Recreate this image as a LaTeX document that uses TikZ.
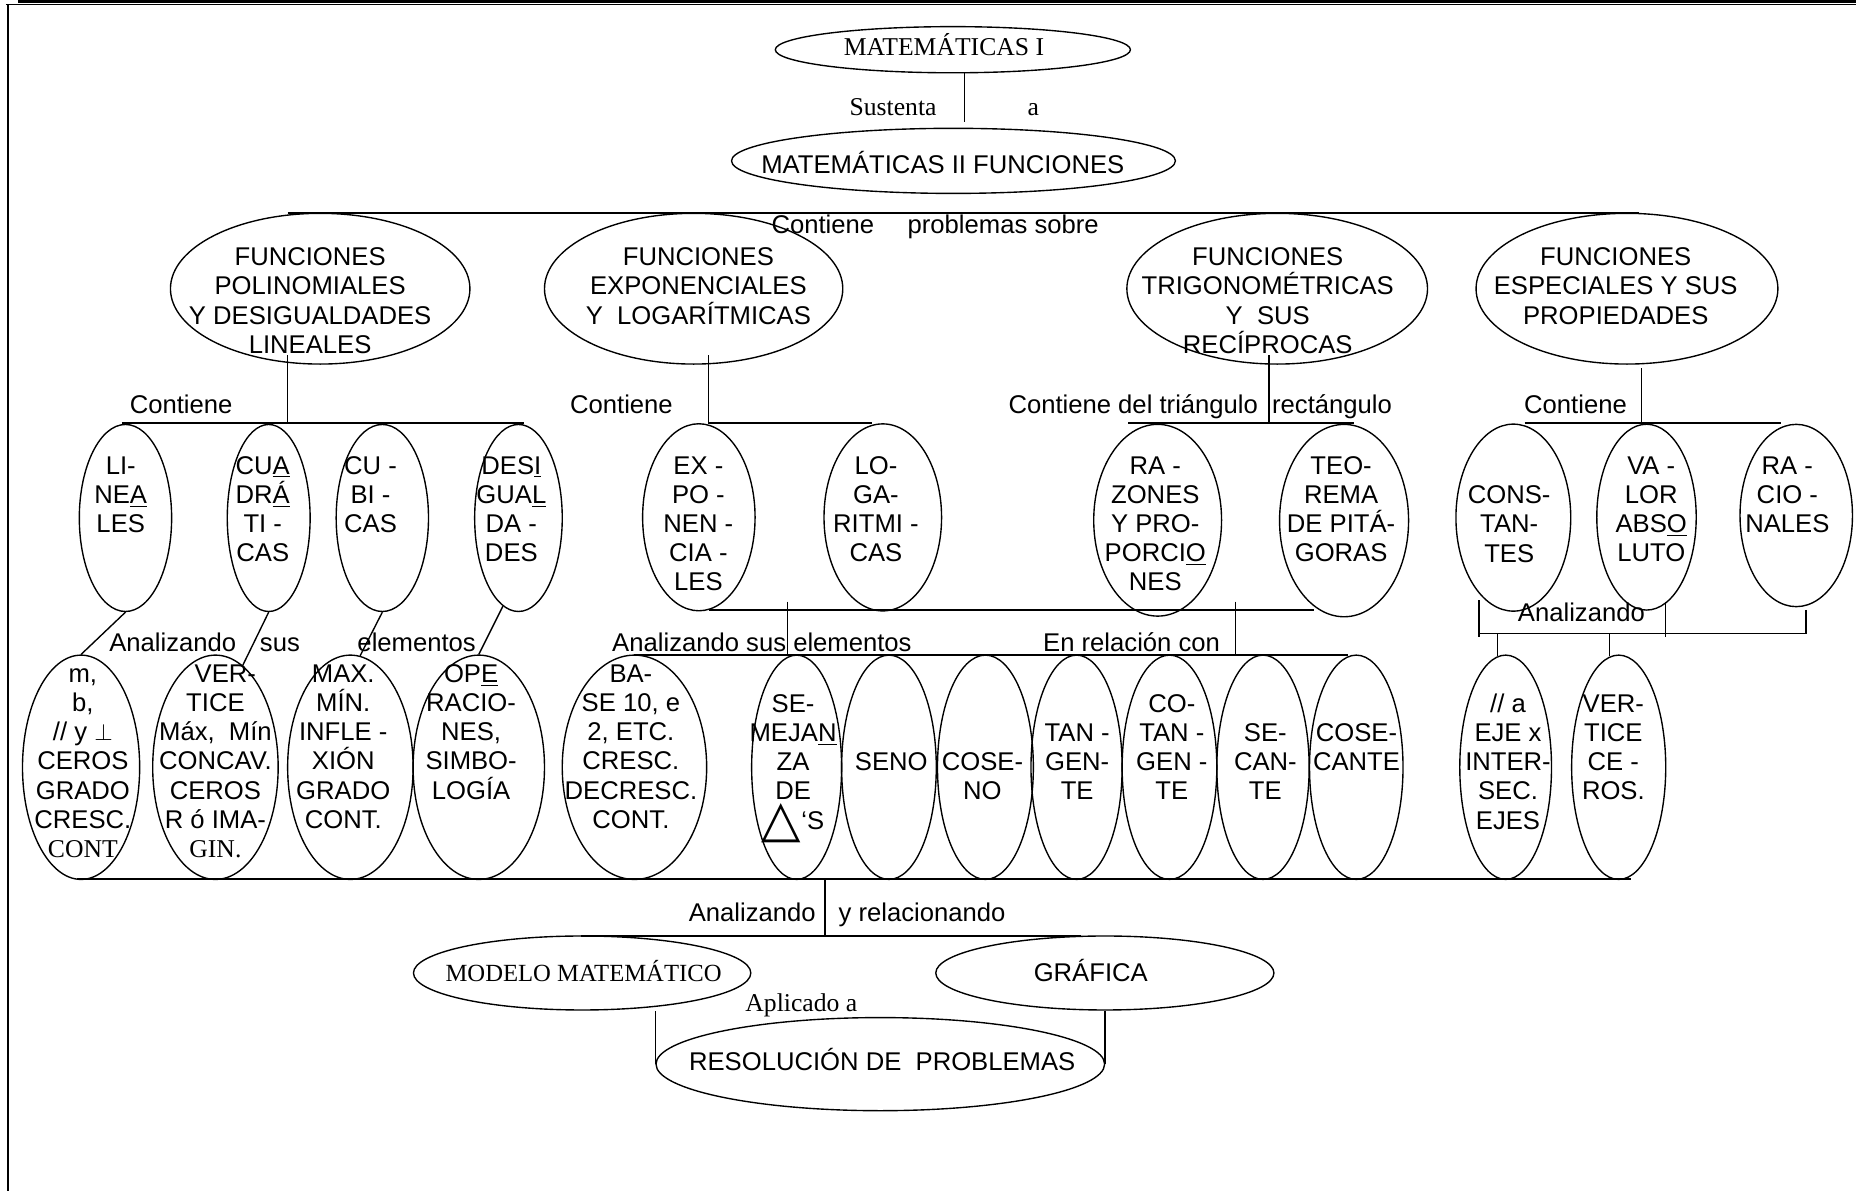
\documentclass[tikz,border=0pt]{standalone}
\usepackage{fontspec}
\setmainfont{Liberation Sans}
\newfontfamily\timesf{Liberation Serif}
\newfontfamily\dejavu{DejaVu Sans}
\usetikzlibrary{shapes.geometric}

\newcommand\hs{\rule{0pt}{10.36pt}}
\tikzset{
    oval/.style={draw, ellipse, inner sep=0pt},
    mid/.style={oval, minimum height=94.8pt},
    tall/.style={oval, minimum height=113.7pt},
    txt/.style={align=center, inner sep=0pt, anchor=north, font=\fontsize{13}{14.8}\selectfont},
    lbl/.style={inner sep=0pt, anchor=base, font=\fontsize{13}{14.8}\selectfont},
    rm/.style={font=\timesf\fontsize{13}{14.8}\selectfont},
    bus/.style={line width=1pt}
}

\begin{document}
\begin{tikzpicture}[x=0.6pt, y=-0.6pt, line width=0.7pt]
    \useasboundingbox (0,0) rectangle (1568,1006);
    % marco
    \draw[line width=1.4pt] (15,1.2) -- (1568,1.2);
    \draw[line width=0.6pt] (5,3.8) -- (1568,3.8);
    \draw[line width=0.9pt] (6.7,3.8) -- (6.7,1006);

    % Matematicas
    \node[oval, minimum width=180pt, minimum height=23.4pt] (mat1) at (805,42) {};
    \node[lbl, rm] (mat1t) at (797.5,47.3) {MATEMÁTICAS I};
    \coordinate (sus) at (815,102.8);
    \draw (sus |- mat1.south) -- (sus);
    \node[lbl, rm] (sust) at (754.5,97.2) {Sustenta};
    \node[lbl, rm] (susa) at (873,97.2) {a};
    \node[oval, minimum width=225pt, minimum height=33pt] (mat2) at (805.5,135.9) {};
    \node[lbl] (mat2t) at (796.5,146.4) {MATEMÁTICAS II FUNCIONES};

    % funciones
    \coordinate (b0l) at (243,180.2);
    \coordinate (b0r) at (1385,180.2);
    \draw[bus] (b0l) -- (b0r);
    \node[lbl] (cont0) at (790,197) {Contiene\hspace{17pt}problemas sobre};
    \node[oval, minimum width=151.8pt, minimum height=76.4pt] (pol) at (270.5,243.9) {};
    \node[txt] (polt) at (262,206.7) {\hs FUNCIONES\\POLINOMIALES\\Y DESIGUALDADES\\LINEALES};
    \node[oval, minimum width=151.2pt, minimum height=76.4pt] (expo) at (586,243.9) {};
    \node[txt] (expot) at (590,206.7) {\hs FUNCIONES\\EXPONENCIALES\\Y\ \ LOGARÍTMICAS};
    \node[oval, minimum width=152.4pt, minimum height=76.4pt] (trig) at (1079,243.9) {};
    \node[txt] (trigt) at (1071,206.7) {\hs FUNCIONES\\TRIGONOMÉTRICAS\\Y\ \ SUS\\RECÍPROCAS};
    \node[oval, minimum width=153pt, minimum height=76.4pt] (esp) at (1374.5,243.9) {};
    \node[txt] (espt) at (1365,206.7) {\hs FUNCIONES\\ESPECIALES Y SUS\\PROPIEDADES};

    % contiene
    \coordinate (c1) at (243,357.7);
    \coordinate (c2) at (598.4,357.7);
    \coordinate (c3) at (1072,357.7);
    \coordinate (c4) at (1387,357.7);
    \draw (c1) -- ++(0,-57.7);
    \draw (c2) -- ++(0,-57.7);
    \draw (c3) -- ++(0,-57.7);
    \draw (c4) -- ++(0,-46.7);
    \draw[bus] (103,357.7) -- (443,357.7);
    \draw[bus] (c2) -- (736.4,357.7);
    \draw[bus] (953,357.7) -- (1144,357.7);
    \draw[bus] (1288,357.7) -- (1505,357.7);
    \node[lbl] (cont1) at (153,349) {Contiene};
    \node[lbl] (cont2) at (525,349) {Contiene};
    \node[lbl] (cont3) at (1014,349) {Contiene del triángulo\ \ rectángulo};
    \node[lbl] (cont4) at (1331,349) {Contiene};

    \node[mid, minimum width=46.8pt] (lin) at (106,437.6) {};
    \node[txt] (lint) at (102,382.7) {\hs LI-\\NE\underline{A}\\LES};
    \node[mid, minimum width=42pt] (cua) at (227,437.6) {};
    \node[txt] (cuat) at (222,382.7) {\hs CU\underline{A}\\DR\underline{Á}\\TI -\\CAS};
    \node[mid, minimum width=46.8pt] (cub) at (323,437.6) {};
    \node[txt] (cubt) at (313,382.7) {\hs CU -\\BI -\\CAS};
    \node[mid, minimum width=44.4pt] (des) at (438,437.6) {};
    \node[txt] (dest) at (432,382.7) {\hs DES\underline{I}\\GUA\underline{L}\\DA -\\DES};
    \node[mid, minimum width=57pt] (ex) at (590.4,437) {};
    \node[txt] (ext) at (590,382.7) {\hs EX -\\PO -\\NEN -\\CIA -\\LES};
    \node[mid, minimum width=59.6pt] (lg) at (745.8,437.1) {};
    \node[txt] (lgt) at (740,382.7) {\hs LO-\\GA-\\RITMI -\\CAS};
    \node[oval, minimum width=64.8pt, minimum height=97.2pt] (raz) at (978,439.5) {};
    \node[txt] (razt) at (976,382.7) {\hs RA -\\ZONES\\Y PRO-\\PORCI\underline{O}\\NES};
    \node[oval, minimum width=65.4pt, minimum height=97.5pt] (teo) at (1135.5,439.8) {};
    \node[txt] (teot) at (1133,382.7) {\hs TEO-\\REMA\\DE PITÁ-\\GORAS};
    \node[mid, minimum width=58.2pt] (con) at (1278.5,437.3) {};
    \node[txt] (cont) at (1275,407.7) {\hs CONS-\\TAN-\\TES};
    \node[oval, minimum width=50.4pt, minimum height=94.2pt] (val) at (1391,436.9) {};
    \node[txt] (valt) at (1395,382.7) {\hs VA -\\LOR\\ABS\underline{O}\\LUTO};
    \node[oval, minimum width=57pt, minimum height=92.4pt] (rac) at (1517.5,435.5) {};
    \node[txt] (ract) at (1510,382.7) {\hs RA -\\CIO -\\NALES};

    % analizando
    \node[tall, minimum width=59.4pt] (m1) at (68.5,648.2) {};
    \node[txt] (m1t) at (70,558.6) {\hs m,\\b,\\// y $\perp$\\CEROS\\GRADO\\CRESC.\\{\timesf CONT}};
    \node[tall, minimum width=63.6pt] (ve) at (182,648.2) {};
    \node[txt] (vet) at (182,558.6) {\hs\hspace{10pt}VER-\\TICE\\Máx,\ \ Mín\\CONCAV.\\CEROS\\R ó IMA-\\{\timesf GIN.}};
    \node[tall, minimum width=63.6pt] (mx) at (296,648.2) {};
    \node[txt] (mxt) at (290,558.6) {\hs MAX.\\MÍN.\\INFLE -\\XIÓN\\GRADO\\CONT.};
    \node[tall, minimum width=66.6pt] (op) at (404.5,648.2) {};
    \node[txt] (opt) at (398,558.6) {\hs OP\underline{E}\\RACIO-\\NES,\\SIMBO-\\LOGÍA};
    \node[tall, minimum width=73.2pt] (ba) at (536,648.2) {};
    \node[txt] (bat) at (533,558.6) {\hs BA-\\SE 10, e\\2, ETC.\\CRESC.\\DECRESC.\\CONT.};
    \node[tall, minimum width=45.6pt] (se) at (673,648.2) {};
    \node[txt] (set) at (670,583.9) {\hs SE-\\MEJA\underline{N}\\ZA\\DE\\\smash{\raisebox{-4pt}{\dejavu\fontsize{26}{26}\selectfont △}}‘S};
    \node[tall, minimum width=48pt] (sen) at (751,648.2) {};
    \node[txt] (sent) at (753,633.2) {\hs SENO};
    \node[tall, minimum width=48.6pt] (cs) at (832.5,648.2) {};
    \node[txt] (cst) at (830,633.2) {\hs COSE-\\NO};
    \node[tall, minimum width=46.2pt] (tg) at (909.5,648.2) {};
    \node[txt] (tgt) at (910,608.4) {\hs TAN -\\GEN-\\TE};
    \node[tall, minimum width=48pt] (ctg) at (988,648.2) {};
    \node[txt] (ctgt) at (990,583.9) {\hs CO-\\TAN -\\GEN -\\TE};
    \node[tall, minimum width=46.8pt] (sc) at (1067,648.2) {};
    \node[txt] (sct) at (1069,608.4) {\hs SE-\\CAN-\\TE};
    \node[tall, minimum width=47.4pt] (csc) at (1145.8,648.2) {};
    \node[txt] (csct) at (1146,608.4) {\hs COSE-\\CANTE};
    \node[tall, minimum width=46.5pt] (ej) at (1272,648.2) {};
    \node[txt] (ejt) at (1274,583.9) {\hs // a\\EJE x\\INTER-\\SEC.\\EJES};
    \node[tall, minimum width=47.7pt] (vx) at (1367.5,648.2) {};
    \node[txt] (vxt) at (1363,583.7) {\hs VER-\\TICE\\CE -\\ROS.};

    \draw (lin.south) -- (m1.north);
    \draw (cua.south) -- (ve.75);
    \draw (cub.south) -- (mx.85);
    \draw (des.260) -- (op.north);
    \node[lbl] (an1) at (146,550.6) {Analizando};
    \node[lbl] (an2) at (236.5,550.6) {sus};
    \node[lbl] (an3) at (352,550.6) {elementos};
    \node[lbl] (an4) at (643.7,550.6) {Analizando sus elementos};
    \node[lbl] (rel) at (956,550.6) {En relación con};

    \draw[bus] (599,515.3) -- (1110,515.3);
    \draw (665.1,508.3) -- (665.1,553.4);
    \draw (1043.6,508.3) -- (1043.6,553.4);
    \draw[bus] (536,553.4) -- (1139,553.4);

    \coordinate (k1) at (1249.5,535);
    \coordinate (k2) at (1525.7,515.3);
    \draw (k2) |- (k1);
    \draw (1249.5,506.9) -- (1249.5,537.9);
    \draw (1407.2,508.3) -- (1407.2,537.9);
    \draw (k1 -| ej.north) ++(-6.8,0) -- ++(0,19.2);
    \draw (k1 -| vx.north) ++(-7.7,0) -- ++(0,19.2);
    \node[lbl] (an5) at (1336,525.2) {Analizando};

    % modelo
    \draw[bus] (65,742.9) -- (1378,742.9);
    \coordinate (r0) at (696.9,790.7);
    \draw (r0) -- ++(0,-47.8);
    \draw[bus] (490.5,790.7) -- (913.4,790.7);
    \node[lbl] (an6) at (635.5,778.6) {Analizando};
    \node[lbl] (yrel) at (779,778.6) {y relacionando};
    \node[oval, minimum width=171pt, minimum height=37.5pt] (mod) at (491.8,822) {};
    \node[lbl, font=\timesf\fontsize{12.5}{14.8}\selectfont] (modt) at (493,829.3) {MODELO MATEMÁTICO};
    \node[oval, minimum width=171.4pt, minimum height=37.5pt] (gra) at (933.4,822) {};
    \node[lbl] (grat) at (921.5,829.3) {GRÁFICA};
    \node[lbl, rm] (apl) at (677,854.6) {Aplicado a};
    \node[oval, minimum width=227.4pt, minimum height=47.2pt] (res) at (743.7,899) {};
    \node[lbl] (rest) at (745.3,904.5) {RESOLUCIÓN DE\ \ PROBLEMAS};
    \draw (res.west) -- (res.west |- mod.south);
    \draw (gra.south) -- (gra.south |- res.east);
\end{tikzpicture}
\end{document}
